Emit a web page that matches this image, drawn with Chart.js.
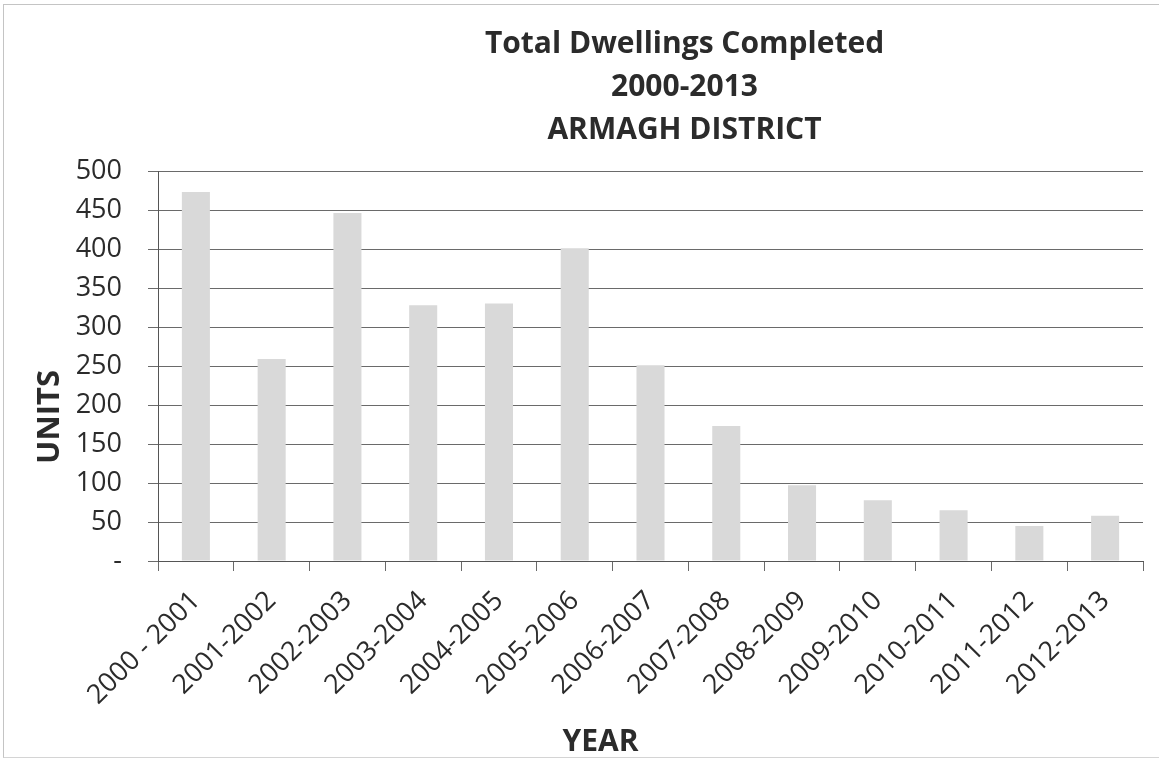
<!DOCTYPE html>
<html>
<head>
<meta charset="utf-8">
<title>Total Dwellings Completed 2000-2013 - Armagh District</title>
<script src="https://cdn.jsdelivr.net/npm/chart.js@4.4.1/dist/chart.umd.min.js"></script>
<style>
  html, body { margin: 0; padding: 0; background: #fff; }
  #wrap { position: relative; width: 1159px; height: 762px; }
  #frame {
    position: absolute; left: 3px; top: 4px; width: 1160px; height: 752px;
    border-left: 1px solid #c4c4c4; border-top: 1px solid #c4c4c4; border-bottom: 1px solid #d4d4d4;
    pointer-events: none;
  }
</style>
</head>
<body>
<div id="wrap">
  <canvas id="chart" width="1159" height="762"></canvas>
  <div id="frame"></div>
</div>
<script>
// data
var YEARS = [
  "2000 - 2001", "2001-2002", "2002-2003", "2003-2004", "2004-2005", "2005-2006", "2006-2007",
  "2007-2008", "2008-2009", "2009-2010", "2010-2011", "2011-2012", "2012-2013"
];
var UNITS = [473, 259, 446, 328, 330, 401, 251, 173, 97, 78, 65, 45, 58];
var TITLE_LINES = ["Total Dwellings Completed", "2000-2013", "ARMAGH DISTRICT"];
var Y_MAX = 500;
var Y_STEP = 50;

var FONT = "'Open Sans', 'Liberation Sans', sans-serif";
var TEXT = "#2b2b2b";

// titles drawn by hand: the scan has them off-centre from the plot
var titlesPlugin = {
  id: "scanTitles",
  afterDraw: function (chart) {
    var ctx = chart.ctx;
    var area = chart.chartArea;
    ctx.save();
    ctx.fillStyle = TEXT;
    ctx.textAlign = "center";
    ctx.textBaseline = "middle";
    ctx.font = "bold 30px " + FONT;
    var cx = (area.left + area.right) / 2 + 34;
    TITLE_LINES.forEach(function (line, i) {
      ctx.fillText(line, cx, 44 + i * 43);
    });

    ctx.font = "bold 30px " + FONT;
    ctx.fillText("YEAR", (area.left + area.right) / 2 - 50, 742);

    ctx.translate(50, (area.top + area.bottom) / 2 + 51);
    ctx.rotate(-Math.PI / 2);
    ctx.font = "bold 31px " + FONT;
    ctx.fillText("UNITS", 0, 0);
    ctx.restore();
  },
};

new Chart(document.getElementById("chart"), {
  type: "bar",
  data: {
    labels: YEARS,
    datasets: [
      {
        label: "Units",
        data: UNITS,
        backgroundColor: "#d9d9d9",
        borderWidth: 0,
        barPercentage: 0.37,
        categoryPercentage: 1,
      },
    ],
  },
  options: {
    responsive: false,
    animation: false,
    layout: { padding: { left: 0, top: 171, right: 16, bottom: 0 } },
    plugins: {
      legend: { display: false },
      title: { display: false },
      tooltip: { enabled: false },
    },
    scales: {
      x: {
        offset: true,
        afterFit: function (s) { s.height = 201; },
        grid: {
          offset: true,
          drawOnChartArea: false,
          drawTicks: true,
          tickLength: 10,
          color: "#6a6a6a",
        },
        border: { color: "#555555", width: 1 },
        ticks: {
          color: TEXT,
          font: { family: FONT, size: 27 },
          minRotation: 45,
          maxRotation: 45,
          autoSkip: false,
          padding: 14,
        },
      },
      y: {
        min: 0,
        max: Y_MAX,
        afterFit: function (s) { s.width = 158; },
        grid: {
          color: "#6a6a6a",
          lineWidth: 1,
          tickLength: 10,
        },
        border: { color: "#555555", width: 1 },
        ticks: {
          stepSize: Y_STEP,
          color: TEXT,
          font: { family: FONT, size: 27 },
          padding: 26,
          callback: function (v) { return v === 0 ? "-" : v; },
        },
      },
    },
  },
  plugins: [titlesPlugin],
});
</script>
</body>
</html>
